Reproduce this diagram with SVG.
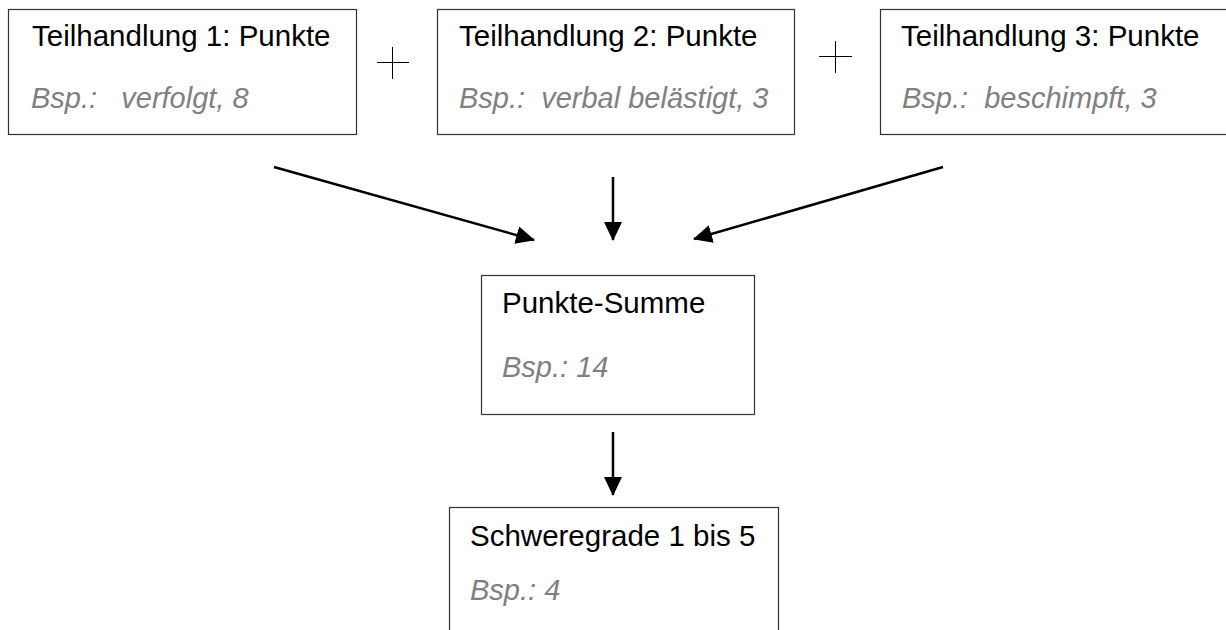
<svg xmlns="http://www.w3.org/2000/svg" width="1226" height="630" viewBox="0 0 1226 630">
<style>
.box{fill:#fff;stroke:#333;stroke-width:1.2}
.t{font-family:"Liberation Sans",Arial,sans-serif;font-size:29.5px;fill:#000}
.g{font-family:"Liberation Sans",Arial,sans-serif;font-size:29px;fill:#808080;font-style:italic}
.plus{stroke:#000;stroke-width:1;fill:none}
.arr{stroke:#000;stroke-width:2.5;fill:none;marker-end:url(#ah)}
</style>
<defs>
<marker id="ah" markerUnits="userSpaceOnUse" markerWidth="20" markerHeight="18" refX="18" refY="9" orient="auto" viewBox="0 0 20 18">
<path d="M0,0 L19,9 L0,18 Z" fill="#000"/>
</marker>
</defs>
<rect width="1226" height="630" fill="#fff"/>
<g id="node-teil1">
<rect class="box" x="8.5" y="9.5" width="348" height="125"/>
<text class="t" x="32" y="46">Teilhandlung 1: Punkte</text>
<text class="g" x="31" y="108" xml:space="preserve">Bsp.:   verfolgt, 8</text>
</g>
<g id="node-teil2">
<rect class="box" x="437.5" y="9.5" width="357" height="125"/>
<text class="t" x="459" y="46">Teilhandlung 2: Punkte</text>
<text class="g" x="459" y="108" xml:space="preserve">Bsp.:  verbal belästigt, 3</text>
</g>
<g id="node-teil3">
<rect class="box" x="880.5" y="9.5" width="360" height="125"/>
<text class="t" x="901" y="46">Teilhandlung 3: Punkte</text>
<text class="g" x="902" y="108" xml:space="preserve">Bsp.:  beschimpft, 3</text>
</g>
<g id="plus-signs">
<path class="plus" d="M377,62.5 H409 M392.5,47 V79"/>
<path class="plus" d="M819,56.5 H852 M835.5,41 V73"/>
</g>
<g id="node-summe">
<rect class="box" x="481.5" y="275.5" width="273" height="139"/>
<text class="t" x="502" y="313">Punkte-Summe</text>
<text class="g" x="502" y="377">Bsp.: 14</text>
</g>
<g id="node-schweregrade">
<rect class="box" x="449.5" y="507.5" width="329" height="140"/>
<text class="t" x="470" y="546">Schweregrade 1 bis 5</text>
<text class="g" x="470" y="600">Bsp.: 4</text>
</g>
<g id="connectors">
<line class="arr" x1="274" y1="167" x2="534" y2="240"/>
<line class="arr" x1="613" y1="177" x2="613" y2="240"/>
<line class="arr" x1="943" y1="167" x2="694" y2="239"/>
<line class="arr" x1="613" y1="432" x2="613" y2="495"/>
</g>
</svg>
